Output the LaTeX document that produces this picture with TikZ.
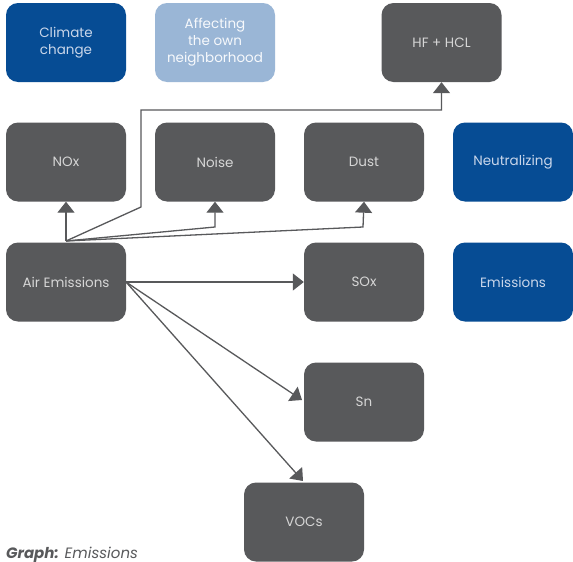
\documentclass[tikz,border=0pt]{standalone}
\usepackage{fontspec}
\setmainfont{Poppins}
\usetikzlibrary{arrows.meta}
\definecolor{boxgray}{HTML}{58595B}
\definecolor{boxblue}{HTML}{064C94}
\definecolor{lightblue}{HTML}{9AB6D6}
\definecolor{txtgray}{HTML}{D6D6D6}
\definecolor{txtblue}{HTML}{C9D6EA}
\tikzset{
  base/.style={rectangle, rounded corners=12pt, minimum width=120pt, minimum height=79pt,
    align=center, inner sep=2pt, font=\fontsize{13.5}{17}\selectfont},
  graybox/.style={base, fill=boxgray, text=txtgray},
  bluebox/.style={base, fill=boxblue, text=txtblue},
  lightbox/.style={base, fill=lightblue, text=white!92!lightblue},
  conn/.style={draw=boxgray, line width=1.3pt, -{Triangle[width=17pt,length=11pt]}}
}
\begin{document}
\begin{tikzpicture}[x=1pt,y=-1pt]
\useasboundingbox[fill=white] (0,0) rectangle (573,562);
\node[bluebox]  (climate) at (66,42.5) {Climate\\change};
\node[lightbox] (affect)  at (215,42.5) {Affecting\\the own\\neighborhood};
\node[graybox]  (hf)      at (441.5,42.5) {HF + HCL};
\node[graybox]  (nox)     at (66,162) {NOx};
\node[graybox]  (noise)   at (215,162) {Noise};
\node[graybox]  (dust)    at (364,162) {Dust};
\node[bluebox]  (neut)    at (513,162) {Neutralizing};
\node[graybox]  (air)     at (66,282) {Air Emissions};
\node[graybox]  (sox)     at (364,282) {SOx};
\node[bluebox]  (emis)    at (513,282) {Emissions};
\node[graybox]  (sn)      at (364,402) {Sn};
\node[graybox]  (voc)     at (304,522) {VOCs};
\coordinate (src) at (66,241);
\coordinate (srcr) at (126,282);
\coordinate (noisec) at (215,227);
\coordinate (dustc) at (363,227);
\coordinate (hfa) at (141,207);
\coordinate (hfb) at (141,110);
\coordinate (hfc) at (441.5,110);
\coordinate (sntip) at (302,400);
\coordinate (voctip) at (303,481);
\draw[conn] (src) -- (nox.south);
\draw[conn] (src) -- (noisec) -- (noise.south);
\draw[conn] (src) -- (dustc) -- (dust.south);
\draw[conn] (src) -- (hfa) -- (hfb) -- (hfc) -- (hf.south);
\draw[conn] (srcr) -- (sox.west);
\draw[conn] (srcr) -- (sntip);
\draw[conn] (srcr) -- (voctip);
\node[anchor=base west, inner sep=0pt, text=boxgray, font=\fontsize{15}{17}\selectfont\itshape] (cap) at (6,558) {\textbf{Graph:} Emissions};
\end{tikzpicture}
\end{document}
